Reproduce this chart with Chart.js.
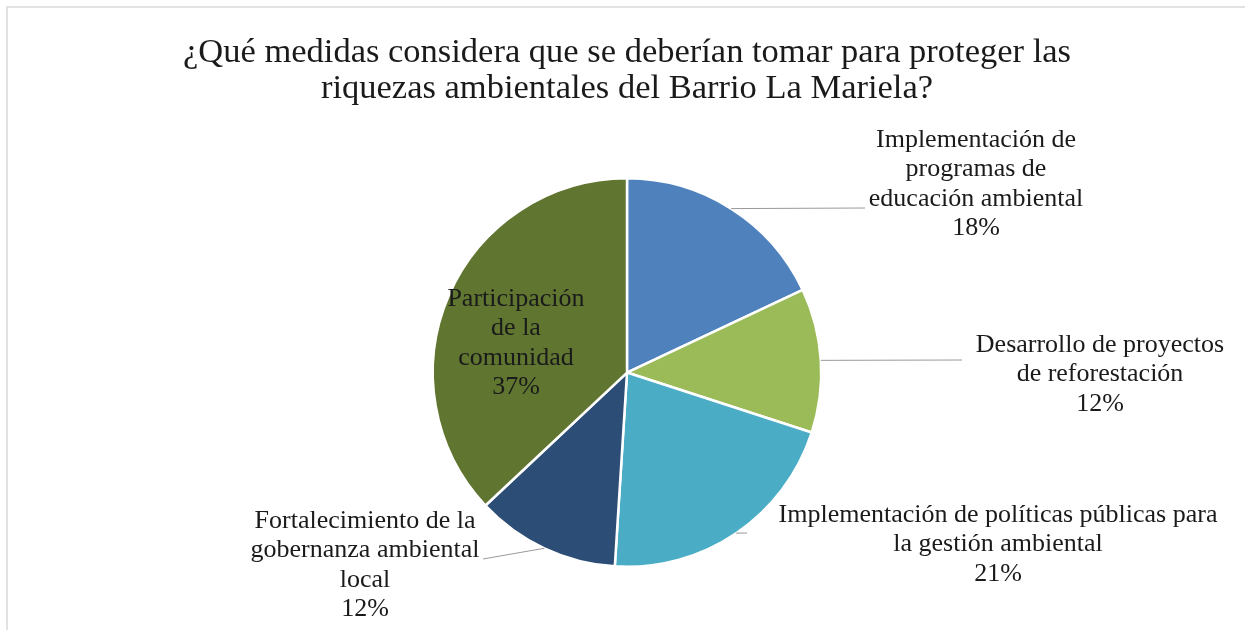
<!DOCTYPE html>
<html>
<head>
<meta charset="utf-8">
<script src="https://cdn.jsdelivr.net/npm/chart.js@4.4.1/dist/chart.umd.min.js"></script>
<style>
  html, body { margin: 0; padding: 0; background: #fff; overflow: hidden; }
  #wrap { position: relative; width: 1245px; height: 630px; }
  #frame { position: absolute; left: 6px; top: 6px; width: 1245px; height: 630px;
           border-left: 2px solid #e2e2e2; border-top: 2px solid #e2e2e2; pointer-events: none; }
</style>
</head>
<body>
<div id="wrap">
  <canvas id="pie" width="1245" height="630"></canvas>
  <div id="frame"></div>
</div>
<script>
const titleLines = [
  '¿Qué medidas considera que se deberían tomar para proteger las',
  'riquezas ambientales del Barrio La Mariela?'
];
const categories = [
  ['Implementación de', 'programas de', 'educación ambiental'],
  ['Desarrollo de proyectos', 'de reforestación'],
  ['Implementación de políticas públicas para', 'la gestión ambiental'],
  ['Fortalecimiento de la', 'gobernanza ambiental', 'local'],
  ['Participación', 'de la', 'comunidad']
];
const values = [18, 12, 21, 12, 37];
const colors = ['#4F81BD', '#9BBB59', '#4BACC6', '#2C4D75', '#5F7530'];

// where each label block sits (center of first line) and where its leader line ends
const labelSpots = [
  {x: 976, y: 140, lx: 865, ly: 208},
  {x: 1100, y: 345, lx: 962, ly: 360},
  {x: 998, y: 515, lx: 747, ly: 533},
  {x: 365, y: 521, lx: 483, ly: 559},
  {x: 516, y: 299}
];

const serif = '"Liberation Serif", "Times New Roman", serif';

const pieLabels = {
  id: 'pieLabels',
  afterDatasetsDraw(chart) {
    const ctx = chart.ctx;
    const meta = chart.getDatasetMeta(0);
    const total = values.reduce((a, b) => a + b, 0);
    ctx.save();
    meta.data.forEach((arc, i) => {
      const spot = labelSpots[i];
      if (spot.lx !== undefined) {
        const mid = (arc.startAngle + arc.endAngle) / 2;
        const px = arc.x + Math.cos(mid) * arc.outerRadius;
        const py = arc.y + Math.sin(mid) * arc.outerRadius;
        ctx.strokeStyle = '#999';
        ctx.lineWidth = 1;
        ctx.beginPath();
        ctx.moveTo(px, py);
        ctx.lineTo(spot.lx, spot.ly);
        ctx.stroke();
      }
      const lines = categories[i].concat([Math.round(values[i] / total * 100) + '%']);
      ctx.fillStyle = '#1a1a1a';
      ctx.font = '26px ' + serif;
      ctx.textAlign = 'center';
      ctx.textBaseline = 'middle';
      lines.forEach((t, k) => ctx.fillText(t, spot.x, spot.y + k * 29.5));
    });
    ctx.restore();
  }
};

new Chart(document.getElementById('pie'), {
  type: 'pie',
  data: {
    labels: categories,
    datasets: [{
      data: values,
      backgroundColor: colors,
      borderColor: '#ffffff',
      borderWidth: 2.5
    }]
  },
  options: {
    responsive: false,
    animation: false,
    layout: { padding: { left: 9, right: 0, top: 0, bottom: 62 } },
    plugins: {
      legend: { display: false },
      tooltip: { enabled: false },
      title: {
        display: true,
        text: titleLines,
        color: '#1a1a1a',
        font: { family: serif, size: 34.5, weight: 'normal', lineHeight: 1.045 },
        padding: { top: 35, bottom: 70 }
      }
    }
  },
  plugins: [pieLabels]
});
</script>
</body>
</html>
